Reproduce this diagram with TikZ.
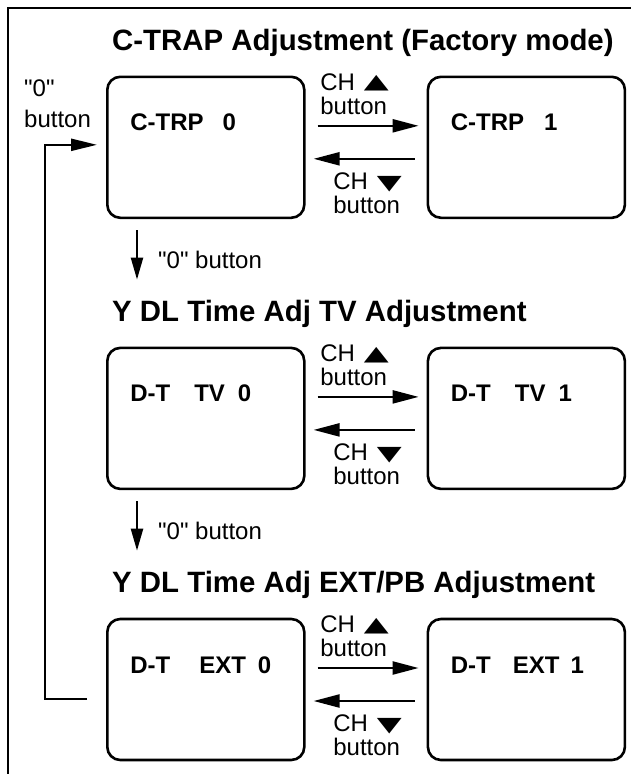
\documentclass[tikz,border=0pt]{standalone}
\usepackage{fontspec}
\setmainfont{Liberation Sans}
\newfontfamily\symfont{DejaVu Sans}
\usetikzlibrary{arrows.meta,positioning}
\newcommand{\tup}{\raisebox{1.5pt}{\scalebox{1.35}[0.85]{\symfont ▲}}}
\newcommand{\tdn}{\scalebox{1.35}[0.85]{\symfont ▼}}
\newcommand{\zq}{\textquotedbl 0\textquotedbl}
\tikzset{
  screenbox/.style={
    rectangle, draw=black, line width=2.6pt, rounded corners=13pt,
    inner xsep=23pt, inner ysep=0pt, text width=151pt,
    text height=54pt, text depth=87pt, align=left,
    font=\fontsize{24}{26}\selectfont\bfseries
  },
  heading/.style={
    font=\fontsize{29.4}{32}\selectfont\bfseries, inner sep=0pt, anchor=base west
  },
  labelnode/.style={
    font=\fontsize{24}{24}\selectfont, inner sep=0pt, align=left
  },
  keyarrow/.style={
    -{Triangle[length=26pt,width=13pt]}, line width=2.3pt,
    shorten <=12pt, shorten >=8pt
  },
  downarrow/.style={
    -{Triangle[length=22pt,width=12pt]}, line width=2.3pt,
    shorten <=11pt, shorten >=20.5pt
  },
  looparrow/.style={
    -{Triangle[length=26pt,width=12pt]}, line width=2.3pt
  },
}

\begin{document}
\begin{tikzpicture}[x=1pt, y=-1pt]
\useasboundingbox (0,0) rectangle (631,774);
% frame
\draw[line width=2.8pt] (8,790) -- (8,8) -- (645,8);

% C-TRAP
\node[heading] (title1) at (112,50.5) {C-TRAP Adjustment (Factory mode)};
\node[screenbox, anchor=north west] (ctrp0) at ([xshift=-6pt,yshift=-25pt]title1.base west) {C-TRP\hspace{19pt}0};
\node[screenbox, right=121pt of ctrp0] (ctrp1) {C-TRP\hspace{20pt}1};
\draw[keyarrow] ([yshift=21.5pt]ctrp0.east) -- ([yshift=21.5pt]ctrp1.west)
  node[labelnode, midway, above=10pt, xshift=-11.5pt] (up1) {CH\hspace{9pt}\tup\\button};
\draw[keyarrow] ([yshift=-11.5pt]ctrp1.west) -- ([yshift=-11.5pt]ctrp0.east)
  node[labelnode, midway, below=13pt, xshift=1.5pt] (dn1) {CH\hspace{9pt}\tdn\\button};

% Y DL TV
\node[heading] (title2) at ([xshift=6pt,yshift=-102.5pt]ctrp0.south west) {Y DL Time Adj TV Adjustment};
\coordinate (d0) at ([xshift=31pt]ctrp0.south west);
\draw[downarrow] (d0) -- (d0 |- title2.north)
  node[labelnode, midway, right=20pt] (zero1) {\zq{} button};
\node[screenbox, anchor=north west] (dtv0) at ([xshift=-6pt,yshift=-25pt]title2.base west) {D-T\hspace{24pt}TV\hspace{13pt}0};
\node[screenbox, right=121pt of dtv0] (dtv1) {D-T\hspace{24pt}TV\hspace{13pt}1};
\draw[keyarrow] ([yshift=21.5pt]dtv0.east) -- ([yshift=21.5pt]dtv1.west)
  node[labelnode, midway, above=10pt, xshift=-11.5pt] (up2) {CH\hspace{9pt}\tup\\button};
\draw[keyarrow] ([yshift=-11.5pt]dtv1.west) -- ([yshift=-11.5pt]dtv0.east)
  node[labelnode, midway, below=13pt, xshift=1.5pt] (dn2) {CH\hspace{9pt}\tdn\\button};

% Y DL EXT/PB
\node[heading] (title3) at ([xshift=6pt,yshift=-102.5pt]dtv0.south west) {Y DL Time Adj EXT/PB Adjustment};
\coordinate (d1) at ([xshift=31pt]dtv0.south west);
\draw[downarrow] (d1) -- (d1 |- title3.north)
  node[labelnode, midway, right=20pt] (zero2) {\zq{} button};
\node[screenbox, anchor=north west] (dext0) at ([xshift=-6pt,yshift=-25pt]title3.base west) {D-T\hspace{29pt}EXT\hspace{12pt}0};
\node[screenbox, right=121pt of dext0] (dext1) {D-T\hspace{22pt}EXT\hspace{11pt}1};
\draw[keyarrow] ([yshift=21.5pt]dext0.east) -- ([yshift=21.5pt]dext1.west)
  node[labelnode, midway, above=10pt, xshift=-11.5pt] (up3) {CH\hspace{9pt}\tup\\button};
\draw[keyarrow] ([yshift=-11.5pt]dext1.west) -- ([yshift=-11.5pt]dext0.east)
  node[labelnode, midway, below=13pt, xshift=1.5pt] (dn3) {CH\hspace{9pt}\tdn\\button};

% back to C-TRP 0
\draw[looparrow] ([xshift=-19pt,yshift=-9.5pt]dext0.west) -- ++(-42pt,0pt) |- ([xshift=-9pt,yshift=2.5pt]ctrp0.west);
\node[labelnode, anchor=south west] (zero0) at (24,128) {\zq\\[7pt]button};
\end{tikzpicture}
\end{document}
